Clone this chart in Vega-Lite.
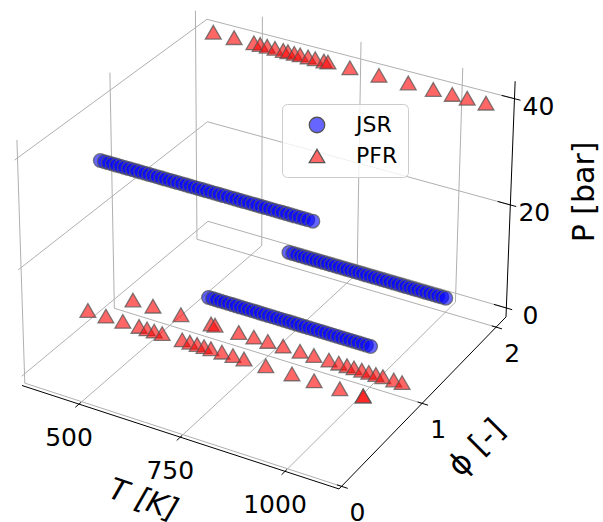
{"$schema":"https://vega.github.io/schema/vega-lite/v6.json","width":603,"height":522,"padding":0,"autosize":{"type":"none"},"background":"white","config":{"view":{"stroke":null},"font":"DejaVu Sans"},
"data":{"values":[
{"k":"grid","n":"f0","T":355.7,"phi":0,"P":-1.77},{"k":"grid","n":"f0","T":1125.7,"phi":0,"P":-1.77},
{"k":"grid","n":"f1","T":355.7,"phi":1,"P":-1.77},{"k":"grid","n":"f1","T":1125.7,"phi":1,"P":-1.77},
{"k":"grid","n":"f2","T":355.7,"phi":2,"P":-1.77},{"k":"grid","n":"f2","T":1125.7,"phi":2,"P":-1.77},
{"k":"grid","n":"f5","T":500,"phi":-0.03,"P":-1.77},{"k":"grid","n":"f5","T":500,"phi":2.14,"P":-1.77},
{"k":"grid","n":"f7","T":750,"phi":-0.03,"P":-1.77},{"k":"grid","n":"f7","T":750,"phi":2.14,"P":-1.77},
{"k":"grid","n":"f10","T":1000,"phi":-0.03,"P":-1.77},{"k":"grid","n":"f10","T":1000,"phi":2.14,"P":-1.77},
{"k":"grid","n":"w0","T":355.7,"phi":0,"P":-1.77},{"k":"grid","n":"w0","T":355.7,"phi":0,"P":43.23},
{"k":"grid","n":"w1","T":355.7,"phi":1,"P":-1.77},{"k":"grid","n":"w1","T":355.7,"phi":1,"P":43.23},
{"k":"grid","n":"w2","T":355.7,"phi":2,"P":-1.77},{"k":"grid","n":"w2","T":355.7,"phi":2,"P":43.23},
{"k":"grid","n":"wp0","T":355.7,"phi":-0.03,"P":0},{"k":"grid","n":"wp0","T":355.7,"phi":2.14,"P":0},
{"k":"grid","n":"wp20","T":355.7,"phi":-0.03,"P":20},{"k":"grid","n":"wp20","T":355.7,"phi":2.14,"P":20},
{"k":"grid","n":"wp40","T":355.7,"phi":-0.03,"P":40},{"k":"grid","n":"wp40","T":355.7,"phi":2.14,"P":40},
{"k":"grid","n":"b5","T":500,"phi":2.14,"P":-1.77},{"k":"grid","n":"b5","T":500,"phi":2.14,"P":43.23},
{"k":"grid","n":"b7","T":750,"phi":2.14,"P":-1.77},{"k":"grid","n":"b7","T":750,"phi":2.14,"P":43.23},
{"k":"grid","n":"b10","T":1000,"phi":2.14,"P":-1.77},{"k":"grid","n":"b10","T":1000,"phi":2.14,"P":43.23},
{"k":"grid","n":"bp0","T":355.7,"phi":2.14,"P":0},{"k":"grid","n":"bp0","T":1125.7,"phi":2.14,"P":0},
{"k":"grid","n":"bp20","T":355.7,"phi":2.14,"P":20},{"k":"grid","n":"bp20","T":1125.7,"phi":2.14,"P":20},
{"k":"grid","n":"bp40","T":355.7,"phi":2.14,"P":40},{"k":"grid","n":"bp40","T":1125.7,"phi":2.14,"P":40},
{"k":"axis","n":"aT","T":355.7,"phi":-0.03,"P":-1.77},{"k":"axis","n":"aT","T":1125.7,"phi":-0.03,"P":-1.77},
{"k":"axis","n":"aF","T":1125.7,"phi":-0.03,"P":-1.77},{"k":"axis","n":"aF","T":1125.7,"phi":2.14,"P":-1.77},
{"k":"axis","n":"aP","T":1125.7,"phi":2.14,"P":-1.77},{"k":"axis","n":"aP","T":1125.7,"phi":2.14,"P":43.23},
{"k":"axis","n":"t5","T":500,"phi":-0.07,"P":-1.77},{"k":"axis","n":"t5","T":500,"phi":-0.01,"P":-1.77},
{"k":"axis","n":"t7","T":750,"phi":-0.07,"P":-1.77},{"k":"axis","n":"t7","T":750,"phi":-0.01,"P":-1.77},
{"k":"axis","n":"t10","T":1000,"phi":-0.07,"P":-1.77},{"k":"axis","n":"t10","T":1000,"phi":-0.01,"P":-1.77},
{"k":"axis","n":"p0","T":1115,"phi":0,"P":-1.77},{"k":"axis","n":"p0","T":1140,"phi":0,"P":-1.77},
{"k":"axis","n":"p1","T":1115,"phi":1,"P":-1.77},{"k":"axis","n":"p1","T":1140,"phi":1,"P":-1.77},
{"k":"axis","n":"p2","T":1115,"phi":2,"P":-1.77},{"k":"axis","n":"p2","T":1140,"phi":2,"P":-1.77},
{"k":"axis","n":"z0","T":1095,"phi":2.14,"P":0},{"k":"axis","n":"z0","T":1140,"phi":2.14,"P":0},
{"k":"axis","n":"z20","T":1095,"phi":2.14,"P":20},{"k":"axis","n":"z20","T":1140,"phi":2.14,"P":20},
{"k":"axis","n":"z40","T":1095,"phi":2.14,"P":40},{"k":"axis","n":"z40","T":1140,"phi":2.14,"P":40},
{"k":"lt","t":"500","T":500,"phi":-0.03,"P":-1.77},{"k":"lt","t":"750","T":750,"phi":-0.03,"P":-1.77},{"k":"lt","t":"1000","T":1000,"phi":-0.03,"P":-1.77},
{"k":"lf","t":"0","T":1125.7,"phi":0,"P":-1.77},{"k":"lf","t":"1","T":1125.7,"phi":1,"P":-1.77},{"k":"lf","t":"2","T":1125.7,"phi":2,"P":-1.77},
{"k":"lp","t":"0","T":1125.7,"phi":2.14,"P":0},{"k":"lp","t":"20","T":1125.7,"phi":2.14,"P":20},{"k":"lp","t":"40","T":1125.7,"phi":2.14,"P":40},
{"k":"tt","t":"T [K]","T":750,"phi":-0.03,"P":-1.77},{"k":"tf","t":"ϕ [-]","T":1125.7,"phi":1,"P":-1.77},{"k":"tp","t":"P [bar]","T":1125.7,"phi":2.14,"P":20},
{"k":"PFR","T":403,"phi":0.5,"P":6},{"k":"PFR","T":449,"phi":0.5,"P":6},{"k":"PFR","T":492,"phi":0.5,"P":6},{"k":"PFR","T":533,"phi":0.5,"P":6},{"k":"PFR","T":553,"phi":0.5,"P":6},{"k":"PFR","T":571,"phi":0.5,"P":6},{"k":"PFR","T":591,"phi":0.5,"P":6},{"k":"PFR","T":641,"phi":0.5,"P":6},{"k":"PFR","T":660,"phi":0.5,"P":6},{"k":"PFR","T":678,"phi":0.5,"P":6},{"k":"PFR","T":695,"phi":0.5,"P":6},{"k":"PFR","T":712,"phi":0.5,"P":6},{"k":"PFR","T":739,"phi":0.5,"P":6},{"k":"PFR","T":766,"phi":0.5,"P":6},{"k":"PFR","T":793,"phi":0.5,"P":6},{"k":"PFR","T":846,"phi":0.5,"P":6},{"k":"PFR","T":909,"phi":0.5,"P":6},{"k":"PFR","T":962,"phi":0.5,"P":6},{"k":"PFR","T":1023,"phi":0.5,"P":6},{"k":"PFR","T":1078,"phi":0.5,"P":6},{"k":"PFR","T":1078,"phi":0.5,"P":6},
{"k":"PFR","T":405,"phi":1,"P":1},{"k":"PFR","T":457,"phi":1,"P":1},{"k":"PFR","T":529,"phi":1,"P":1},{"k":"PFR","T":606,"phi":1,"P":1},{"k":"PFR","T":616,"phi":1,"P":1},{"k":"PFR","T":676,"phi":1,"P":1},{"k":"PFR","T":714,"phi":1,"P":1},{"k":"PFR","T":749,"phi":1,"P":1},{"k":"PFR","T":787,"phi":1,"P":1},{"k":"PFR","T":829,"phi":1,"P":1},{"k":"PFR","T":863,"phi":1,"P":1},{"k":"PFR","T":900,"phi":1,"P":1},{"k":"PFR","T":924,"phi":1,"P":1},{"k":"PFR","T":944,"phi":1,"P":1},{"k":"PFR","T":961,"phi":1,"P":1},{"k":"PFR","T":980,"phi":1,"P":1},{"k":"PFR","T":997,"phi":1,"P":1},{"k":"PFR","T":1014,"phi":1,"P":1},{"k":"PFR","T":1031,"phi":1,"P":1},{"k":"PFR","T":1057,"phi":1,"P":1},{"k":"PFR","T":1077,"phi":1,"P":1},
{"k":"PFR","T":402,"phi":2,"P":40},{"k":"PFR","T":456,"phi":2,"P":40},{"k":"PFR","T":507,"phi":2,"P":40},{"k":"PFR","T":523,"phi":2,"P":40},{"k":"PFR","T":541,"phi":2,"P":40},{"k":"PFR","T":561,"phi":2,"P":40},{"k":"PFR","T":582,"phi":2,"P":40},{"k":"PFR","T":594,"phi":2,"P":40},{"k":"PFR","T":610,"phi":2,"P":40},{"k":"PFR","T":625,"phi":2,"P":40},{"k":"PFR","T":645,"phi":2,"P":40},{"k":"PFR","T":663,"phi":2,"P":40},{"k":"PFR","T":685,"phi":2,"P":40},{"k":"PFR","T":695,"phi":2,"P":40},{"k":"PFR","T":750,"phi":2,"P":40},{"k":"PFR","T":822,"phi":2,"P":40},{"k":"PFR","T":894,"phi":2,"P":40},{"k":"PFR","T":955,"phi":2,"P":40},{"k":"PFR","T":1001,"phi":2,"P":40},{"k":"PFR","T":1037,"phi":2,"P":40},{"k":"PFR","T":1082,"phi":2,"P":40},
{"k":"JSR","T":443,"phi":0.5,"P":35},{"k":"JSR","T":453,"phi":0.5,"P":35},{"k":"JSR","T":463,"phi":0.5,"P":35},{"k":"JSR","T":473,"phi":0.5,"P":35},{"k":"JSR","T":483,"phi":0.5,"P":35},{"k":"JSR","T":493,"phi":0.5,"P":35},{"k":"JSR","T":503,"phi":0.5,"P":35},{"k":"JSR","T":513,"phi":0.5,"P":35},{"k":"JSR","T":523,"phi":0.5,"P":35},{"k":"JSR","T":533,"phi":0.5,"P":35},{"k":"JSR","T":543,"phi":0.5,"P":35},{"k":"JSR","T":553,"phi":0.5,"P":35},{"k":"JSR","T":563,"phi":0.5,"P":35},{"k":"JSR","T":573,"phi":0.5,"P":35},{"k":"JSR","T":583,"phi":0.5,"P":35},{"k":"JSR","T":593,"phi":0.5,"P":35},{"k":"JSR","T":603,"phi":0.5,"P":35},{"k":"JSR","T":613,"phi":0.5,"P":35},{"k":"JSR","T":623,"phi":0.5,"P":35},{"k":"JSR","T":633,"phi":0.5,"P":35},{"k":"JSR","T":643,"phi":0.5,"P":35},{"k":"JSR","T":653,"phi":0.5,"P":35},{"k":"JSR","T":663,"phi":0.5,"P":35},{"k":"JSR","T":673,"phi":0.5,"P":35},{"k":"JSR","T":683,"phi":0.5,"P":35},{"k":"JSR","T":693,"phi":0.5,"P":35},{"k":"JSR","T":703,"phi":0.5,"P":35},{"k":"JSR","T":713,"phi":0.5,"P":35},{"k":"JSR","T":723,"phi":0.5,"P":35},{"k":"JSR","T":733,"phi":0.5,"P":35},{"k":"JSR","T":743,"phi":0.5,"P":35},{"k":"JSR","T":753,"phi":0.5,"P":35},{"k":"JSR","T":763,"phi":0.5,"P":35},{"k":"JSR","T":773,"phi":0.5,"P":35},{"k":"JSR","T":783,"phi":0.5,"P":35},{"k":"JSR","T":793,"phi":0.5,"P":35},{"k":"JSR","T":803,"phi":0.5,"P":35},{"k":"JSR","T":813,"phi":0.5,"P":35},{"k":"JSR","T":823,"phi":0.5,"P":35},{"k":"JSR","T":833,"phi":0.5,"P":35},{"k":"JSR","T":843,"phi":0.5,"P":35},{"k":"JSR","T":853,"phi":0.5,"P":35},{"k":"JSR","T":863,"phi":0.5,"P":35},{"k":"JSR","T":873,"phi":0.5,"P":35},{"k":"JSR","T":883,"phi":0.5,"P":35},{"k":"JSR","T":893,"phi":0.5,"P":35},{"k":"JSR","T":903,"phi":0.5,"P":35},{"k":"JSR","T":913,"phi":0.5,"P":35},{"k":"JSR","T":923,"phi":0.5,"P":35},{"k":"JSR","T":933,"phi":0.5,"P":35},{"k":"JSR","T":943,"phi":0.5,"P":35},{"k":"JSR","T":955,"phi":0.5,"P":35},
{"k":"JSR","T":600,"phi":2,"P":1},{"k":"JSR","T":610,"phi":2,"P":1},{"k":"JSR","T":620,"phi":2,"P":1},{"k":"JSR","T":630,"phi":2,"P":1},{"k":"JSR","T":640,"phi":2,"P":1},{"k":"JSR","T":650,"phi":2,"P":1},{"k":"JSR","T":660,"phi":2,"P":1},{"k":"JSR","T":670,"phi":2,"P":1},{"k":"JSR","T":680,"phi":2,"P":1},{"k":"JSR","T":690,"phi":2,"P":1},{"k":"JSR","T":700,"phi":2,"P":1},{"k":"JSR","T":710,"phi":2,"P":1},{"k":"JSR","T":720,"phi":2,"P":1},{"k":"JSR","T":730,"phi":2,"P":1},{"k":"JSR","T":740,"phi":2,"P":1},{"k":"JSR","T":750,"phi":2,"P":1},{"k":"JSR","T":760,"phi":2,"P":1},{"k":"JSR","T":770,"phi":2,"P":1},{"k":"JSR","T":780,"phi":2,"P":1},{"k":"JSR","T":790,"phi":2,"P":1},{"k":"JSR","T":800,"phi":2,"P":1},{"k":"JSR","T":810,"phi":2,"P":1},{"k":"JSR","T":820,"phi":2,"P":1},{"k":"JSR","T":830,"phi":2,"P":1},{"k":"JSR","T":840,"phi":2,"P":1},{"k":"JSR","T":850,"phi":2,"P":1},{"k":"JSR","T":860,"phi":2,"P":1},{"k":"JSR","T":870,"phi":2,"P":1},{"k":"JSR","T":880,"phi":2,"P":1},{"k":"JSR","T":890,"phi":2,"P":1},{"k":"JSR","T":900,"phi":2,"P":1},{"k":"JSR","T":910,"phi":2,"P":1},{"k":"JSR","T":920,"phi":2,"P":1},{"k":"JSR","T":930,"phi":2,"P":1},{"k":"JSR","T":940,"phi":2,"P":1},{"k":"JSR","T":950,"phi":2,"P":1},{"k":"JSR","T":960,"phi":2,"P":1},{"k":"JSR","T":970,"phi":2,"P":1},{"k":"JSR","T":980,"phi":2,"P":1},{"k":"JSR","T":990,"phi":2,"P":1},{"k":"JSR","T":1000,"phi":2,"P":1},
{"k":"JSR","T":600,"phi":1,"P":6},{"k":"JSR","T":610,"phi":1,"P":6},{"k":"JSR","T":620,"phi":1,"P":6},{"k":"JSR","T":630,"phi":1,"P":6},{"k":"JSR","T":640,"phi":1,"P":6},{"k":"JSR","T":650,"phi":1,"P":6},{"k":"JSR","T":660,"phi":1,"P":6},{"k":"JSR","T":670,"phi":1,"P":6},{"k":"JSR","T":680,"phi":1,"P":6},{"k":"JSR","T":690,"phi":1,"P":6},{"k":"JSR","T":700,"phi":1,"P":6},{"k":"JSR","T":710,"phi":1,"P":6},{"k":"JSR","T":720,"phi":1,"P":6},{"k":"JSR","T":730,"phi":1,"P":6},{"k":"JSR","T":740,"phi":1,"P":6},{"k":"JSR","T":750,"phi":1,"P":6},{"k":"JSR","T":760,"phi":1,"P":6},{"k":"JSR","T":770,"phi":1,"P":6},{"k":"JSR","T":780,"phi":1,"P":6},{"k":"JSR","T":790,"phi":1,"P":6},{"k":"JSR","T":800,"phi":1,"P":6},{"k":"JSR","T":810,"phi":1,"P":6},{"k":"JSR","T":820,"phi":1,"P":6},{"k":"JSR","T":830,"phi":1,"P":6},{"k":"JSR","T":840,"phi":1,"P":6},{"k":"JSR","T":850,"phi":1,"P":6},{"k":"JSR","T":860,"phi":1,"P":6},{"k":"JSR","T":870,"phi":1,"P":6},{"k":"JSR","T":880,"phi":1,"P":6},{"k":"JSR","T":890,"phi":1,"P":6},{"k":"JSR","T":900,"phi":1,"P":6},{"k":"JSR","T":910,"phi":1,"P":6},{"k":"JSR","T":920,"phi":1,"P":6},{"k":"JSR","T":930,"phi":1,"P":6},{"k":"JSR","T":940,"phi":1,"P":6},{"k":"JSR","T":950,"phi":1,"P":6},{"k":"JSR","T":960,"phi":1,"P":6},{"k":"JSR","T":970,"phi":1,"P":6},{"k":"JSR","T":980,"phi":1,"P":6},{"k":"JSR","T":990,"phi":1,"P":6},{"k":"JSR","T":1000,"phi":1,"P":6}
]},
"transform":[
{"calculate":"(datum.T-355.7)/770","as":"a"},
{"calculate":"(datum.phi+0.03)/2.17","as":"b"},
{"calculate":"(datum.P+1.77)/45","as":"c"},
{"calculate":"1-0.0496*datum.a+0.0916*datum.b-0.035*datum.c","as":"h"},
{"calculate":"(22+300.2*datum.a+205.05*datum.b-8.49*datum.c)/datum.h","as":"sx"},
{"calculate":"(385.5+79.2*datum.a-134.43*datum.b-248.47*datum.c)/datum.h","as":"sy"}
],
"encoding":{
"x":{"field":"sx","type":"quantitative","scale":{"domain":[0,603],"nice":false,"zero":false},"axis":null},
"y":{"field":"sy","type":"quantitative","scale":{"domain":[0,522],"reverse":true,"nice":false,"zero":false},"axis":null}
},
"layer":[
{"transform":[{"filter":"datum.k=='grid'"}],"mark":{"type":"line","stroke":"#b0b0b0","strokeWidth":1,"clip":false},"encoding":{"detail":{"field":"n"}}},
{"transform":[{"filter":"datum.k=='axis'"}],"mark":{"type":"line","stroke":"#000000","strokeWidth":1,"clip":false},"encoding":{"detail":{"field":"n"}}},
{"transform":[{"filter":"datum.k=='JSR'"}],"mark":{"type":"point","filled":true,"opacity":1,"size":190,"shape":"circle","stroke":"#555555","strokeOpacity":0.75,"strokeWidth":1.3,"clip":false},
"encoding":{"fill":{"field":"k","type":"nominal","scale":{"domain":["JSR","PFR"],"range":["rgba(0,0,255,0.6)","rgba(255,0,0,0.6)"]},"legend":{"title":null,"orient":"none","legendX":282,"legendY":104,"fillColor":"rgba(255,255,255,0.8)","strokeColor":"#cccccc","cornerRadius":5,"padding":10,"labelFontSize":22,"labelFont":"DejaVu Sans","labelColor":"#000000","labelOffset":28,"symbolOffset":14,"symbolSize":240,"symbolOpacity":1,"symbolStrokeColor":"#808080","symbolStrokeWidth":1.3,"rowPadding":9}},
"shape":{"field":"k","type":"nominal","scale":{"domain":["JSR","PFR"],"range":["circle","triangle-up"]}}}},
{"transform":[{"filter":"datum.k=='PFR'"}],"mark":{"type":"point","filled":true,"opacity":1,"size":250,"stroke":"#555555","strokeOpacity":0.75,"strokeWidth":1.3,"clip":false},
"encoding":{"fill":{"field":"k","type":"nominal"},"shape":{"field":"k","type":"nominal"}}},
{"transform":[{"filter":"datum.k=='lt'"}],"mark":{"type":"text","fontSize":25,"font":"DejaVu Sans","fill":"#000000","dx":-10,"dy":34,"align":"center","baseline":"middle"},"encoding":{"text":{"field":"t"}}},
{"transform":[{"filter":"datum.k=='lf'"}],"mark":{"type":"text","fontSize":25,"font":"DejaVu Sans","fill":"#000000","dx":16,"dy":27,"align":"center","baseline":"middle"},"encoding":{"text":{"field":"t"}}},
{"transform":[{"filter":"datum.k=='lp'"}],"mark":{"type":"text","fontSize":25,"font":"DejaVu Sans","fill":"#000000","dx":24,"dy":8,"align":"center","baseline":"middle"},"encoding":{"text":{"field":"t"}}},
{"transform":[{"filter":"datum.k=='tt'"}],"mark":{"type":"text","fontSize":30,"font":"DejaVu Sans","fontStyle":"italic","fill":"#000000","angle":19,"dx":-14.5,"dy":71.6,"align":"center","baseline":"middle"},"encoding":{"text":{"field":"t"}}},
{"transform":[{"filter":"datum.k=='tf'"}],"mark":{"type":"text","fontSize":31,"font":"DejaVu Sans","fill":"#000000","angle":315,"dx":7,"dy":70.7,"align":"center","baseline":"middle"},"encoding":{"text":{"field":"t"}}},
{"transform":[{"filter":"datum.k=='tp'"}],"mark":{"type":"text","fontSize":30,"font":"DejaVu Sans","fill":"#000000","angle":270,"dx":13,"dy":75,"align":"center","baseline":"middle"},"encoding":{"text":{"field":"t"}}}
]}
